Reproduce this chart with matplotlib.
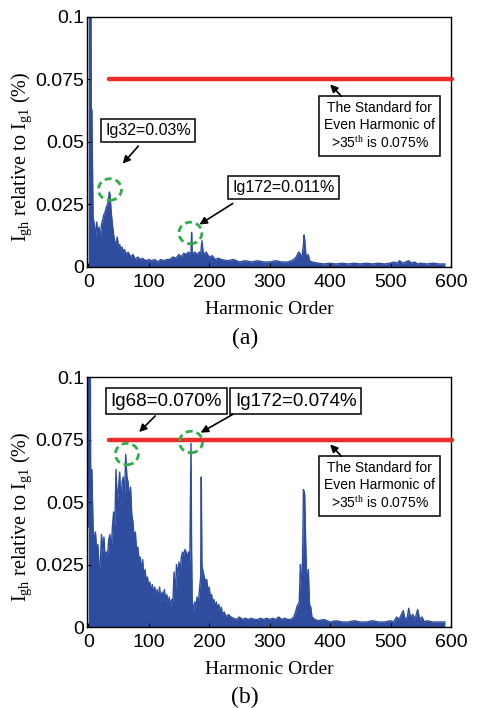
import matplotlib
matplotlib.use('Agg')
import matplotlib.pyplot as plt
from matplotlib.patches import Ellipse

plt.rcParams['font.family'] = 'Liberation Sans'
plt.rcParams['mathtext.fontset'] = 'custom'
plt.rcParams['mathtext.rm'] = 'Liberation Serif'
plt.rcParams['mathtext.it'] = 'Liberation Serif:italic'

# ---- data ----
# (a) harmonic order / amplitude (% of Ig1)
ha = [0, 1, 2, 3, 4, 5, 6, 8, 10, 12, 14, 16, 18, 20, 22, 24, 26, 28, 30, 32,
      34, 35, 36, 38, 40, 42, 44, 46, 48, 50, 52, 54, 56, 58, 60, 63, 66, 70,
      74, 78, 82, 86, 90, 95, 100, 105, 110, 115, 120, 125, 130, 135, 140, 145,
      150, 154, 158, 162, 166, 168, 170, 171, 172, 174, 176, 180, 184, 186,
      188, 190, 192, 195, 200, 205, 210, 215, 220, 230, 240, 250, 260, 270,
      280, 290, 300, 310, 320, 330, 336, 340, 344, 348, 350, 352, 354, 356,
      357, 358, 360, 362, 364, 366, 370, 380, 390, 400, 410, 420, 430, 440,
      450, 460, 470, 480, 490, 500, 505, 510, 515, 520, 525, 530, 535, 540,
      545, 550, 560, 570, 580, 590]
ia = [0.15, 0.15, 0.15, 0.15, 0.15, 0.063, 0.063, 0.020, 0.017, 0.012, 0.018,
      0.013, 0.016, 0.011, 0.017, 0.019, 0.021, 0.022, 0.024, 0.025, 0.028,
      0.030, 0.029, 0.022, 0.017, 0.013, 0.010, 0.009, 0.012, 0.008, 0.009,
      0.007, 0.008, 0.006, 0.007, 0.005, 0.006, 0.004, 0.005, 0.003, 0.004,
      0.003, 0.0035, 0.0025, 0.003, 0.0025, 0.003, 0.002, 0.003, 0.0025,
      0.003, 0.003, 0.004, 0.0035, 0.005, 0.004, 0.0055, 0.005, 0.006, 0.005,
      0.006, 0.0138, 0.006, 0.005, 0.006, 0.005, 0.006, 0.005, 0.0105, 0.006,
      0.005, 0.006, 0.004, 0.0045, 0.003, 0.0035, 0.003, 0.0025, 0.003,
      0.002, 0.0025, 0.002, 0.0025, 0.002, 0.002, 0.0025, 0.002, 0.002,
      0.0025, 0.003, 0.004, 0.006, 0.0055, 0.004, 0.005, 0.009, 0.0128,
      0.011, 0.005, 0.004, 0.005, 0.0025, 0.002, 0.0015, 0.0012, 0.0015,
      0.0012, 0.0015, 0.0012, 0.0015, 0.0012, 0.0015, 0.0012, 0.0015, 0.0012,
      0.0015, 0.002, 0.0015, 0.0025, 0.0015, 0.002, 0.0025, 0.0015, 0.002,
      0.0012, 0.0015, 0.0012, 0.0015, 0.0012, 0.0012]

# (b)
hb = [0, 1, 2, 3, 4, 6, 8, 10, 12, 14, 16, 18, 20, 22, 24, 26, 28, 30, 32, 34,
      36, 38, 40, 42, 44, 46, 48, 50, 52, 54, 56, 58, 60, 62, 64, 66, 68, 70,
      72, 74, 76, 78, 80, 82, 84, 86, 88, 90, 92, 94, 96, 98, 100, 102, 104,
      106, 108, 110, 112, 114, 116, 118, 120, 122, 124, 126, 128, 130, 132,
      134, 136, 138, 140, 142, 144, 146, 148, 150, 152, 154, 156, 158, 160,
      162, 164, 166, 168, 170, 171, 172, 174, 176, 178, 180, 182, 184, 186,
      187, 188, 190, 192, 194, 196, 198, 200, 202, 204, 206, 208, 210, 212,
      214, 216, 218, 220, 222, 225, 228, 232, 236, 240, 245, 250, 255, 260,
      265, 270, 275, 280, 285, 290, 295, 300, 305, 310, 315, 320, 325, 330,
      335, 340, 343, 345, 347, 349, 351, 352, 354, 356, 358, 360, 362, 364,
      366, 368, 370, 375, 380, 390, 400, 410, 420, 430, 440, 450, 460, 470,
      480, 490, 500, 505, 510, 514, 518, 521, 524, 528, 530, 533, 537, 540,
      545, 548, 552, 556, 560, 570, 580, 590]
ib = [0.040, 0.15, 0.15, 0.15, 0.063, 0.063, 0.040, 0.034, 0.038, 0.030,
      0.033, 0.022, 0.026, 0.037, 0.030, 0.036, 0.027, 0.030, 0.029, 0.035,
      0.037, 0.030, 0.040, 0.046, 0.040, 0.063, 0.050, 0.055, 0.062, 0.048,
      0.058, 0.060, 0.052, 0.069, 0.060, 0.058, 0.050, 0.056, 0.045, 0.042,
      0.035, 0.038, 0.030, 0.032, 0.027, 0.028, 0.022, 0.027, 0.020, 0.023,
      0.018, 0.020, 0.016, 0.018, 0.014, 0.017, 0.013, 0.016, 0.012, 0.015,
      0.011, 0.016, 0.010, 0.014, 0.012, 0.015, 0.010, 0.013, 0.009, 0.012,
      0.008, 0.011, 0.010, 0.022, 0.012, 0.025, 0.020, 0.026, 0.022, 0.028,
      0.030, 0.029, 0.031, 0.030, 0.028, 0.030, 0.025, 0.0735, 0.030, 0.010,
      0.006, 0.010, 0.008, 0.012, 0.009, 0.015, 0.020, 0.060, 0.025, 0.022,
      0.020, 0.018, 0.019, 0.014, 0.016, 0.012, 0.013, 0.010, 0.011, 0.008,
      0.010, 0.007, 0.009, 0.006, 0.008, 0.005, 0.006, 0.004, 0.005, 0.004,
      0.0035, 0.003, 0.004, 0.003, 0.0035, 0.003, 0.0035, 0.003, 0.003,
      0.0035, 0.003, 0.0035, 0.003, 0.0035, 0.003, 0.004, 0.003, 0.0035,
      0.003, 0.003, 0.004, 0.006, 0.008, 0.009, 0.010, 0.025, 0.020, 0.018,
      0.055, 0.053, 0.030, 0.015, 0.023, 0.009, 0.008, 0.004, 0.003, 0.0025,
      0.003, 0.002, 0.0025, 0.002, 0.002, 0.0025, 0.002, 0.002, 0.0025,
      0.002, 0.002, 0.0025, 0.002, 0.004, 0.003, 0.005, 0.0065, 0.003, 0.004,
      0.0075, 0.004, 0.005, 0.003, 0.007, 0.003, 0.004, 0.002, 0.0025, 0.002,
      0.002, 0.002]

limit = 0.075
limit_start = 35
yticks = [0, 0.025, 0.05, 0.075, 0.1]
yticklabels = ['0', '0.025', '0.05', '0.075', '0.1']
xticks = [0, 100, 200, 300, 400, 500, 600]

blue = '#2f4d9e'
red = '#ee2b2b'
green = '#2fae48'

fig = plt.figure(figsize=(4.8, 7.08), dpi=100)
ax_a = fig.add_axes([0.18125, 0.6229, 0.7583, 0.3531])
ax_b = fig.add_axes([0.18125, 0.1144, 0.7583, 0.3531])

std_text = 'The Standard for\nEven Harmonic of\n>35$^{\\rm th}$ is 0.075%'


def draw_panel(ax, h, amp):
    ax.fill_between(h, amp, 0, color=blue, lw=0)
    ax.plot(h, amp, color=blue, lw=1.0)
    ax.plot([limit_start, 602], [limit, limit], color=red, lw=3.2,
            solid_capstyle='round', clip_on=False, zorder=5)
    ax.set_xlim(-2, 600)
    ax.set_ylim(0, 0.1)
    ax.set_xticks(xticks)
    ax.set_yticks(yticks)
    ax.set_yticklabels(yticklabels)
    ax.tick_params(direction='in', length=3, labelsize=14, pad=2)
    ax.tick_params(axis='x', pad=5)
    for s in ax.spines.values():
        s.set_linewidth(1.0)
    ax.set_xlabel('Harmonic Order', family='Liberation Serif', fontsize=14,
                  labelpad=7)
    ax.set_ylabel('I$_{\\rm gh}$ relative to I$_{\\rm g1}$ (%)',
                  family='Liberation Serif', fontsize=14.5)
    ax.yaxis.set_label_coords(-0.145, 0.44)
    ax.text(482, limit - 0.0186, std_text, ha='center', va='center',
            fontsize=10, linespacing=1.25, zorder=6,
            bbox=dict(boxstyle='square,pad=0.35', fc='white', ec='black', lw=1.1))
    ax.annotate('', xy=(397, 0.0738), xytext=(422, 0.0675),
                arrowprops=dict(arrowstyle='-|>', color='black', lw=1.2,
                                mutation_scale=11), zorder=6)


def circle(ax, x, y):
    ax.add_patch(Ellipse((x, y), 38, 0.0086, fill=False, ec=green, lw=2.0,
                         ls=(0, (2.5, 1.5)), zorder=7, clip_on=False))


def label_box(ax, x, y, text, size):
    ax.text(x, y, text, ha='center', va='center', fontsize=size, zorder=6,
            bbox=dict(boxstyle='square,pad=0.25', fc='white', ec='black', lw=1.1))


def arrow(ax, start, tip):
    ax.annotate('', xy=tip, xytext=start,
                arrowprops=dict(arrowstyle='-|>', color='black', lw=1.2,
                                mutation_scale=11), zorder=6)


# panel (a)
draw_panel(ax_a, ha, ia)
label_box(ax_a, 99, 0.0546, 'Ig32=0.03%', 11.5)
label_box(ax_a, 323, 0.0316, 'Ig172=0.011%', 11.5)
arrow(ax_a, (86, 0.0492), (54, 0.0405))
arrow(ax_a, (243, 0.026), (180, 0.0164))
circle(ax_a, 36, 0.0310)
circle(ax_a, 169, 0.0136)

# panel (b)
draw_panel(ax_b, hb, ib)
label_box(ax_b, 129, 0.0904, 'Ig68=0.070%', 13.5)
label_box(ax_b, 343, 0.0904, 'Ig172=0.074%', 13.5)
arrow(ax_b, (114, 0.0852), (81, 0.0772))
arrow(ax_b, (243, 0.0856), (182, 0.0772))
circle(ax_b, 64, 0.0692)
circle(ax_b, 170, 0.0740)

fig.text(245 / 480, 1 - 338 / 708, '(a)', ha='center', va='center',
         family='Liberation Serif', fontsize=17)
fig.text(245 / 480, 1 - 697 / 708, '(b)', ha='center', va='center',
         family='Liberation Serif', fontsize=17)

fig.savefig('out.png', dpi=100)
